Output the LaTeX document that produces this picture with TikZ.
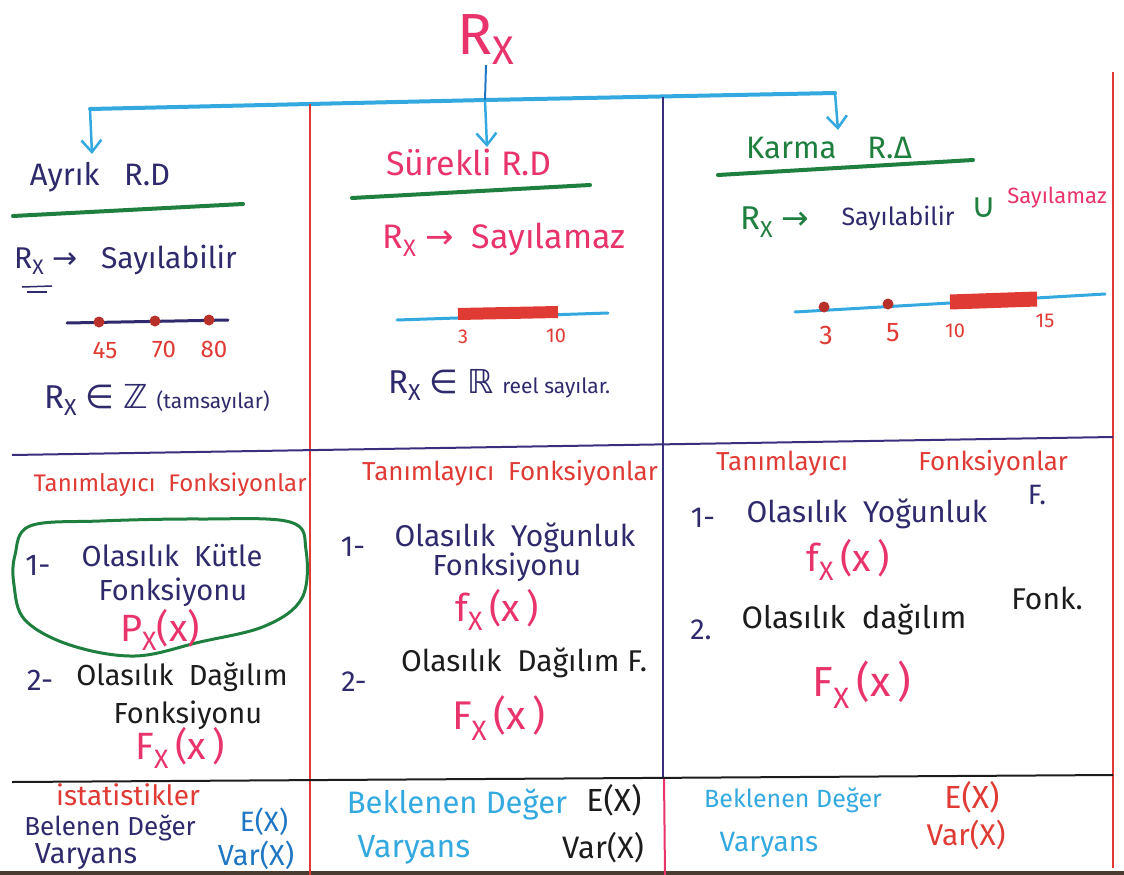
\documentclass[tikz,border=0pt]{standalone}
\usepackage{fontspec}
\setmainfont{Fira Sans}
\newfontfamily\symf{DejaVu Sans}
\usetikzlibrary{arrows.meta}
\definecolor{cpink}{HTML}{E8336B}
\definecolor{cred}{HTML}{E03A34}
\definecolor{cnavy}{HTML}{2E2A6B}
\definecolor{cgreen}{HTML}{1F7F3F}
\definecolor{ccyan}{HTML}{33A9E0}
\definecolor{cblue}{HTML}{1F77C4}
\definecolor{cpurple}{HTML}{3A2F7C}
\definecolor{cblack}{HTML}{1C1C1C}
\definecolor{cdot}{HTML}{B8302A}
\definecolor{cbrown}{HTML}{4A3C30}
\newcommand{\fs}[1]{\fontsize{#1}{#1}\selectfont}
\newcommand{\RX}{R\textsubscript{X}}
\newcommand{\sarrow}{{\symf →}}
\tikzset{
  lbl/.style={inner sep=0pt, anchor=center},
  ttlf/.style={font=\fs{31}},
  bodyf/.style={font=\fs{29}},
  numf/.style={font=\fs{24}, text=cred},
  fnf/.style={font=\fs{38}, text=cpink},
  branch/.style={draw=ccyan, line width=4pt, line cap=round},
  arr/.style={draw=ccyan, line width=2.5pt, -{Straight Barb[length=12pt,width=20pt]}},
  rule/.style={line width=2pt},
  uline/.style={draw=cgreen, line width=4pt, line cap=round},
  nline/.style={line width=3pt, line cap=round},
  rbar/.style={draw=cred, line width=12pt},
  ptdot/.style={circle, fill=cdot, inner sep=0pt, minimum size=11pt},
}
\begin{document}
\begin{tikzpicture}[x=1pt,y=-1pt]
\useasboundingbox (0,0) rectangle (1124,875);
\fill[white] (0,0) rectangle (1124,875);
\fill[cbrown] (0,871) rectangle (1124,875);

% ---------- top ----------
\node[lbl, text=cpink] (rx) at (486,40) {\fs{58}R\raisebox{-10pt}{\fs{40}X}};
\coordinate (bl) at (90,109);
\coordinate (bm) at (485,100);
\coordinate (br) at (835,93);
\coordinate (al) at (92,154);
\coordinate (am) at (487,147);
\coordinate (ar) at (838,130);
\draw[branch] (bl) -- (bm) -- (br);
\draw[cblue, line width=2pt] (rx.south) -- (bm);
\draw[arr] (bl) -- (al);
\draw[arr] (bm) -- (am);
\draw[arr] (br) -- (ar);

% ---------- grid ----------
\draw[rule, cred] (310,104) -- (310,875);
\draw[rule, cpurple] (663,97) -- (663,777);
\draw[rule, cpink] (664,777) -- (665,875);
\draw[rule, cred] (1113,72) -- (1113,868);
\draw[rule, cpurple] (12,455) -- (1113,437);
\draw[rule, cblack] (12,782) -- (1113,775);

% ---------- column 1 ----------
\node[lbl, ttlf, text=cnavy] (tA) at (100,177) {Ayrık\ \ \ R.D};
\draw[uline] (13,216) -- (243,204);
\node[lbl, font=\fs{30}, text=cnavy, anchor=west] (sA) at (14,260) {\RX\ \sarrow\ \ \ Sayılabilir};
\draw[cnavy, line width=1.5pt] (22,287) -- (52,286);
\draw[cnavy, line width=1.5pt] (27,292) -- (47,292);
\draw[nline, cnavy] (67,323) -- (228,320);
\node[ptdot] (d1) at (99,322) {};
\node[ptdot] (d2) at (155,321) {};
\node[ptdot] (d3) at (209,320) {};
\node[lbl, numf] (n45) at (105,350) {45};
\node[lbl, numf] (n70) at (164,349) {70};
\node[lbl, numf] (n80) at (214,349) {80};
\node[lbl, anchor=west, text=cnavy] (zA) at (44,400) {\fs{33}\RX\ {\symf ∈} {\symf ℤ} {\fs{21}(tamsayılar)}};

\node[lbl, font=\fs{24}, text=cred] (fA) at (170,485) {Tanımlayıcı\ \ Fonksiyonlar};
\draw[cgreen, line width=3pt] plot[smooth cycle, tension=0.6] coordinates
  {(15,555) (30,526) (100,521) (200,519) (290,522) (306,550) (302,598) (265,626) (200,642) (135,656) (70,645) (25,620) (14,585)};
\node[lbl, font=\fs{30}, text=cnavy] (o1n) at (38,565) {1-};
\node[lbl, bodyf, text=cnavy] (o1a) at (172,556) {Olasılık\ \ Kütle};
\node[lbl, bodyf, text=cnavy] (o1b) at (173,592) {Fonksiyonu};
\node[lbl, fnf] (px) at (160,630) {P\textsubscript{X}(x)};
\node[lbl, font=\fs{30}, text=cnavy] (o2n) at (40,680) {2-};
\node[lbl, bodyf, text=cblack] (o2a) at (182,677) {Olasılık\ \ Dağılım};
\node[lbl, bodyf, text=cblack] (o2b) at (188,715) {Fonksiyonu};
\node[lbl, fnf] (FxA) at (180,748) {F\textsubscript{X}\,(x\,)};

\node[lbl, font=\fs{28}, text=cred] (stA) at (128,795) {istatistikler};
\node[lbl, font=\fs{26}, text=cnavy] (bA) at (110,828) {Belenen Değer};
\node[lbl, font=\fs{28}, text=cblue] (eA) at (264,822) {E(X)};
\node[lbl, font=\fs{29}, text=cnavy] (vA) at (86,857) {Varyans};
\node[lbl, font=\fs{29}, text=cblue] (vxA) at (256,855) {Var(X)};

% ---------- column 2 ----------
\node[lbl, font=\fs{34}, text=cpink] (tB) at (469,162) {Sürekli\ R.D};
\draw[uline] (352,198) -- (590,185);
\node[lbl, font=\fs{34}, text=cpink] (sB) at (504,240) {\RX\ \sarrow\ \ Sayılamaz};
\draw[nline, ccyan] (397,320) -- (608,313);
\draw[rbar] (458,314) -- (558,312);
\node[lbl, numf, font=\fs{20}] (n3B) at (463,337) {3};
\node[lbl, numf, font=\fs{20}] (n10B) at (556,336) {10};
\node[lbl, anchor=west, text=cnavy] (zB) at (388,385) {\fs{33}\RX\ {\symf ∈} {\symf ℝ} {\fs{21}reel sayılar.}};

\node[lbl, font=\fs{26}, text=cred] (fB) at (510,473) {Tanımlayıcı\ \ Fonksiyonlar};
\node[lbl, bodyf, text=cnavy] (y1n) at (353,547) {1-};
\node[lbl, font=\fs{30}, text=cnavy] (y1a) at (515,538) {Olasılık\ \ Yoğunluk};
\node[lbl, bodyf, text=cnavy] (y1b) at (507,567) {Fonksiyonu};
\node[lbl, fnf] (fxB) at (497,610) {f\textsubscript{X}\,(x\,)};
\node[lbl, bodyf, text=cnavy] (y2n) at (354,682) {2-};
\node[lbl, font=\fs{30}, text=cblack] (y2a) at (524,663) {Olasılık\ \ Dağılım F.};
\node[lbl, fnf, font=\fs{40}] (FxB) at (499,718) {F\textsubscript{X}\,(x\,)};

\node[lbl, font=\fs{31}, text=ccyan] (bB) at (457,805) {Beklenen Değer};
\node[lbl, font=\fs{32}, text=cblack] (eB) at (614,800) {E(X)};
\node[lbl, font=\fs{32}, text=ccyan] (vB) at (414,850) {Varyans};
\node[lbl, font=\fs{31}, text=cblack] (vxB) at (603,848) {Var(X)};

% ---------- column 3 ----------
\node[lbl, ttlf, text=cgreen] (tC) at (829,148) {Karma\quad R.Δ};
\draw[uline] (718,175) -- (973,160);
\node[lbl, font=\fs{33}, text=cgreen, anchor=west] (rC) at (740,222) {\RX\ \sarrow};
\node[lbl, font=\fs{25}, text=cnavy] (sC1) at (898,218) {Sayılabilir};
\node[lbl, font=\fs{34}, text=cgreen] (uC) at (984,208) {\symf ∪};
\node[lbl, font=\fs{22}, text=cpink] (sC2) at (1057,198) {Sayılamaz};
\draw[nline, ccyan] (795,312) -- (1105,294);
\node[ptdot] (d4) at (824,307) {};
\node[ptdot] (d5) at (888,304) {};
\draw[rbar, line width=15pt] (950,302) -- (1037,299);
\node[lbl, numf, font=\fs{27}] (n3C) at (826,335) {3};
\node[lbl, numf, font=\fs{27}] (n5C) at (893,333) {5};
\node[lbl, numf, font=\fs{20}] (n10C) at (955,331) {10};
\node[lbl, numf, font=\fs{20}] (n15C) at (1045,321) {15};

\node[lbl, font=\fs{26}, text=cred] (fC) at (892,463) {Tanımlayıcı\hspace{70pt}Fonksiyonlar};
\node[lbl, bodyf, text=cnavy] (k1n) at (703,518) {1-};
\node[lbl, font=\fs{30}, text=cnavy] (k1a) at (867,514) {Olasılık\ \ Yoğunluk};
\node[lbl, font=\fs{28}, text=cnavy] (k1f) at (1037,495) {F.};
\node[lbl, fnf] (fxC) at (848,560) {f\textsubscript{X}\,(x\,)};
\node[lbl, bodyf, text=cnavy] (k2n) at (701,630) {2.};
\node[lbl, font=\fs{31}, text=cblack] (k2a) at (854,620) {Olasılık\ \ dağılım};
\node[lbl, font=\fs{30}, text=cblack] (k2f) at (1047,598) {Fonk.};
\node[lbl, fnf, font=\fs{42}] (FxC) at (862,685) {F\textsubscript{X}\,(x\,)};

\node[lbl, font=\fs{25}, text=ccyan] (bC) at (793,800) {Beklenen Değer};
\node[lbl, font=\fs{32}, text=cred] (eC) at (972,797) {E(X)};
\node[lbl, font=\fs{28}, text=ccyan] (vC) at (769,845) {Varyans};
\node[lbl, font=\fs{30}, text=cred] (vxC) at (966,835) {Var(X)};
\end{tikzpicture}
\end{document}
